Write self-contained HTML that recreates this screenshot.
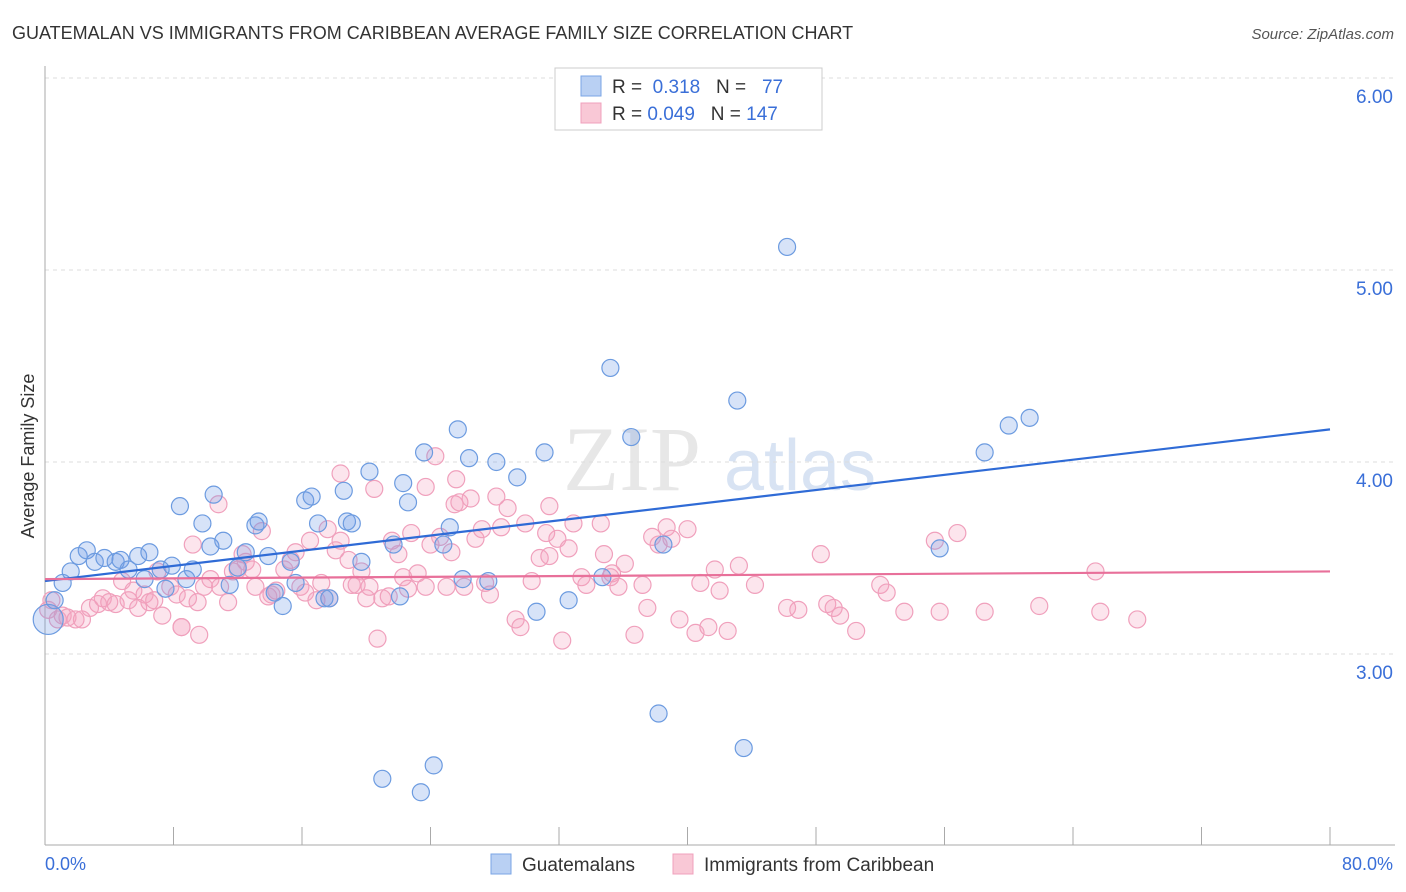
<!DOCTYPE html>
<html><head><meta charset="utf-8"><style>
body{margin:0;background:#fff;font-family:"Liberation Sans",sans-serif;}
#wrap{position:relative;width:1406px;height:892px;overflow:hidden;}
</style></head><body>
<div id="wrap">
<svg id="chart" width="1406" height="892" xmlns="http://www.w3.org/2000/svg">
<text x="12" y="39" font-size="18" fill="#333">GUATEMALAN VS IMMIGRANTS FROM CARIBBEAN AVERAGE FAMILY SIZE CORRELATION CHART</text>
<text x="1394" y="39" font-size="15" fill="#555" font-style="italic" text-anchor="end">Source: ZipAtlas.com</text>
<g>
<text x="632" y="490" font-size="92" fill="#ddd" font-family="Liberation Serif,serif" text-anchor="middle" opacity="0.7">ZIP</text>
<text x="800" y="490" font-size="72" fill="#c8d8ee" text-anchor="middle" opacity="0.7">atlas</text>
</g>
<g id="grid"></g>
<g id="axes"></g>
<g id="pink"></g>
<g id="blue"></g>
<g id="trends"></g>
<text x="34" y="456" font-size="18" fill="#333" text-anchor="middle" transform="rotate(-90 34 456)">Average Family Size</text>
<text x="45" y="870" font-size="18" fill="#3a6fd8">0.0%</text>
<text x="1393" y="870" font-size="18" fill="#3a6fd8" text-anchor="end">80.0%</text>
<g>
<rect x="555" y="68" width="267" height="62" fill="#fff" stroke="#ccc"/>
<rect x="581" y="76" width="20" height="20" fill="#b9d0f3" stroke="#7aa5e6"/>
<rect x="581" y="103" width="20" height="20" fill="#f9c8d6" stroke="#f0a0bc"/>
<text x="612" y="93" font-size="19" fill="#333">R = <tspan fill="#3a6fd8">&#160;0.318</tspan>&#160;&#160;&#160;N = &#160;<tspan fill="#3a6fd8">&#160;77</tspan></text>
<text x="612" y="120" font-size="19" fill="#333">R = <tspan fill="#3a6fd8">0.049</tspan>&#160;&#160;&#160;N = <tspan fill="#3a6fd8">147</tspan></text>
</g>
<g>
<rect x="491" y="854" width="20" height="20" fill="#b9d0f3" stroke="#7aa5e6"/>
<text x="522" y="871" font-size="19" fill="#333">Guatemalans</text>
<rect x="673" y="854" width="20" height="20" fill="#f9c8d6" stroke="#f0a0bc"/>
<text x="704" y="871" font-size="19" fill="#333">Immigrants from Caribbean</text>
</g>
</svg>
</div>
<script>
const yTicks=[3,4,5,6];
const yTickLabels=["3.00","4.00","5.00","6.00"];
const xTicks=[0,8,16,24,32,40,48,56,64,72,80];
const blueX=[0.2,0.6,1.1,1.6,2.1,2.6,3.1,3.7,4.4,4.7,5.2,5.8,6.5,6.2,7.2,7.5,7.9,8.4,8.8,9.2,9.8,10.3,10.5,11.1,11.5,12.0,12.5,13.1,13.3,13.9,14.3,14.8,15.3,15.6,16.2,16.6,17.0,17.4,17.7,18.6,18.8,19.1,19.7,20.2,21.7,22.1,22.3,22.6,23.6,24.8,25.2,25.7,26.0,26.4,27.6,28.1,29.4,30.6,31.1,32.6,34.7,35.2,36.5,38.2,38.5,43.1,43.5,46.2,55.7,58.5,60.0,61.3,21.0,23.4,24.2];
const blueY=[3.18,3.28,3.37,3.43,3.51,3.54,3.48,3.50,3.48,3.49,3.44,3.51,3.53,3.39,3.44,3.34,3.46,3.77,3.39,3.44,3.68,3.56,3.83,3.59,3.36,3.45,3.53,3.67,3.69,3.51,3.32,3.25,3.48,3.37,3.80,3.82,3.68,3.29,3.29,3.85,3.69,3.68,3.48,3.95,3.57,3.30,3.89,3.79,4.05,3.57,3.66,4.17,3.39,4.02,3.38,4.00,3.92,3.22,4.05,3.28,3.40,4.49,4.13,2.69,3.57,4.32,2.51,5.12,3.55,4.05,4.19,4.23,2.35,2.28,2.42];
const pinkX=[0.2,0.4,0.8,1.1,1.4,1.9,2.3,2.8,3.3,3.6,4.0,4.4,4.8,5.2,5.5,5.8,6.2,6.5,6.8,7.0,7.3,7.8,8.2,8.5,8.9,9.2,9.5,9.9,10.3,10.8,10.9,11.4,11.7,12.0,12.3,12.5,12.9,13.1,13.5,13.9,14.1,14.4,14.9,15.3,15.6,15.9,16.2,16.5,16.9,17.2,17.6,17.7,18.1,18.4,18.9,19.1,19.4,19.7,20.0,20.2,20.7,21.0,21.4,21.6,22.0,22.3,22.6,22.8,23.2,23.7,24.0,24.3,24.6,25.0,25.3,25.5,25.8,26.1,26.5,26.8,27.2,27.7,28.1,28.4,28.8,29.3,29.6,29.9,30.3,30.8,31.2,31.4,31.9,32.2,32.6,32.9,33.4,33.7,34.6,34.8,35.3,35.7,36.1,36.7,37.2,37.5,37.8,38.2,38.7,39.0,39.5,40.0,40.5,40.8,41.3,41.7,42.0,42.5,43.2,44.2,46.2,46.9,48.3,48.7,49.1,49.5,50.5,52.0,52.4,53.5,55.4,55.7,56.8,58.5,61.9,65.4,65.7,68.0,9.6,8.5,35.2,27.4,20.5,18.4,23.7,25.6,31.4];
const pinkY=[3.23,3.28,3.18,3.20,3.19,3.18,3.18,3.24,3.26,3.29,3.27,3.26,3.38,3.28,3.33,3.24,3.31,3.27,3.28,3.43,3.20,3.35,3.31,3.14,3.29,3.57,3.27,3.35,3.39,3.78,3.35,3.27,3.43,3.44,3.52,3.48,3.44,3.35,3.64,3.30,3.31,3.33,3.44,3.49,3.53,3.35,3.32,3.59,3.28,3.37,3.65,3.29,3.54,3.59,3.49,3.36,3.36,3.43,3.29,3.35,3.08,3.29,3.30,3.59,3.52,3.40,3.34,3.63,3.42,3.35,3.57,4.03,3.61,3.35,3.53,3.78,3.79,3.35,3.81,3.60,3.65,3.31,3.82,3.66,3.76,3.18,3.14,3.68,3.38,3.50,3.63,3.51,3.60,3.07,3.55,3.68,3.40,3.36,3.68,3.52,3.42,3.35,3.47,3.10,3.36,3.24,3.61,3.57,3.66,3.60,3.18,3.65,3.11,3.37,3.14,3.44,3.33,3.12,3.46,3.36,3.24,3.23,3.52,3.26,3.24,3.20,3.12,3.36,3.32,3.22,3.59,3.22,3.63,3.22,3.25,3.43,3.22,3.18,3.10,3.14,3.40,3.37,3.86,3.94,3.87,3.91,3.77];
const blueTrend=[3.38,4.17];
const pinkTrend=[3.39,3.43];
const X0=45,X1=1330,Yv0=3,Yp0=654,PXU=192;
const sx=v=>X0+(v/80)*(X1-X0);
const sy=v=>Yp0-(v-Yv0)*PXU;
const NS="http://www.w3.org/2000/svg";
function mk(t,a,p){const e=document.createElementNS(NS,t);for(const k in a)e.setAttribute(k,a[k]);p.appendChild(e);return e;}
const grid=document.getElementById('grid'),axes=document.getElementById('axes');
yTicks.forEach((t,i)=>{
 const l=mk('line',{x1:45,x2:1395,y1:sy(t),y2:sy(t),stroke:'#ddd','stroke-dasharray':'4,4'},grid);
 
 
 const tx=mk('text',{x:1393,y:sy(t)+25,'font-size':19,fill:'#3a6fd8','text-anchor':'end'},axes);
 tx.textContent=yTickLabels[i];
 
 
});
let a=mk('line',{x1:45,x2:45,y1:66,y2:845,stroke:'#aaa'},axes);


a=mk('line',{x1:45,x2:1395,y1:845,y2:845,stroke:'#aaa'},axes);


xTicks.forEach(t=>{
 const l=mk('line',{x1:sx(t),x2:sx(t),y1:827,y2:845,stroke:'#aaa'},axes);
 
 
});
const pink=document.getElementById('pink'),blue=document.getElementById('blue');
pinkX.forEach((x,i)=>{
 const c=mk('circle',{cx:sx(x),cy:sy(pinkY[i]),r:8.5,fill:'rgba(244,160,190,0.28)',stroke:'#f0a0bc','stroke-width':1.2},pink);
 
 
});
blueX.forEach((x,i)=>{
 const c=mk('circle',{cx:sx(x),cy:sy(blueY[i]),r:i==0?15:8.5,fill:'rgba(110,155,230,0.28)',stroke:'#6c9be0','stroke-width':1.2},blue);
 
 
});
const tr=document.getElementById('trends');
let t1=mk('line',{x1:sx(0),y1:sy(blueTrend[0]),x2:sx(80),y2:sy(blueTrend[1]),stroke:'#2f6bd6','stroke-width':2.2},tr);


let t2=mk('line',{x1:sx(0),y1:sy(pinkTrend[0]),x2:sx(80),y2:sy(pinkTrend[1]),stroke:'#e8709a','stroke-width':2.2},tr);


</script>
</body></html>
